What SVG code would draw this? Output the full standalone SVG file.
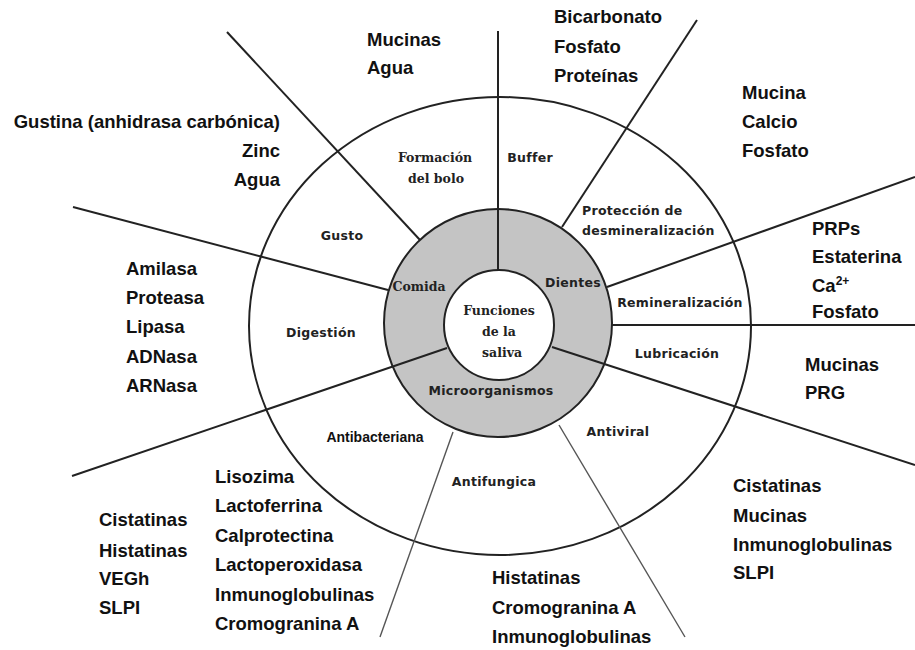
<svg xmlns="http://www.w3.org/2000/svg" width="915" height="650" viewBox="0 0 915 650">
<style>
.o{font-family:"Liberation Sans",Arial,sans-serif;font-weight:bold;font-size:18.5px;fill:#111}
.s{font-family:"DejaVu Sans",Verdana,sans-serif;font-weight:bold;font-size:12.5px;fill:#222;letter-spacing:0.3px}
.r{font-family:"DejaVu Serif",Georgia,serif;font-weight:bold;font-size:12.5px;fill:#222}
.a{font-family:"Liberation Sans",Arial,sans-serif;font-weight:bold;font-size:14px;fill:#111}
.ln{stroke:#222;stroke-width:2;fill:none}
.lt{stroke:#555;stroke-width:1.4;fill:none}
</style>
<rect width="915" height="650" fill="#fff"/>
<g id="rings">
<ellipse cx="500" cy="326" rx="251" ry="229" fill="#fff" stroke="#222" stroke-width="2"/>
<circle cx="498" cy="323" r="114" fill="#c4c4c4" stroke="#222" stroke-width="2"/>
<circle cx="499" cy="325" r="55" fill="#fff" stroke="#222" stroke-width="2"/>
</g>
<g id="connectors">
<line class="ln" x1="498" y1="31" x2="498" y2="270"/>
<line class="ln" x1="227" y1="32" x2="420" y2="240"/>
<line class="ln" x1="697" y1="20" x2="562" y2="227"/>
<line class="ln" x1="607" y1="287" x2="915" y2="177"/>
<line class="ln" x1="612" y1="325" x2="915" y2="325"/>
<line class="ln" x1="552" y1="347" x2="915" y2="465"/>
<line class="lt" x1="559" y1="425" x2="685" y2="637"/>
<line class="lt" x1="453" y1="432" x2="380" y2="637"/>
<line class="ln" x1="447" y1="348" x2="72" y2="476"/>
<line class="ln" x1="73" y1="207" x2="388" y2="290"/>
</g>
<g id="center">
<text class="r" text-anchor="middle"><tspan x="499" y="315">Funciones</tspan><tspan x="499" y="336">de la</tspan><tspan x="502" y="357">saliva</tspan></text>
</g>
<g id="comida"><text class="r" x="419" y="291" text-anchor="middle">Comida</text></g>
<g id="dientes"><text class="s" x="573" y="287" text-anchor="middle">Dientes</text></g>
<g id="microorganismos"><text class="s" x="491" y="395" text-anchor="middle">Microorganismos</text></g>
<g id="formacion"><text class="r" text-anchor="middle"><tspan x="435" y="162">Formación</tspan><tspan x="436" y="183">del bolo</tspan></text></g>
<g id="buffer"><text class="s" x="530" y="162" text-anchor="middle">Buffer</text></g>
<g id="gusto"><text class="s" x="342" y="240" text-anchor="middle">Gusto</text></g>
<g id="proteccion"><text class="s"><tspan x="582" y="215">Protección de</tspan><tspan x="582" y="235">desmineralización</tspan></text></g>
<g id="remineralizacion"><text class="s" x="680" y="307" text-anchor="middle">Remineralización</text></g>
<g id="lubricacion"><text class="s" x="677" y="358" text-anchor="middle">Lubricación</text></g>
<g id="antiviral"><text class="s" x="618" y="436" text-anchor="middle">Antiviral</text></g>
<g id="antifungica"><text class="s" x="494" y="486" text-anchor="middle">Antifungica</text></g>
<g id="antibacteriana"><text class="a" x="375" y="442" text-anchor="middle">Antibacteriana</text></g>
<g id="digestion"><text class="s" x="321" y="337" text-anchor="middle">Digestión</text></g>
<g id="lists">
<text class="o" text-anchor="end"><tspan x="280" y="128">Gustina (anhidrasa carbónica)</tspan><tspan x="280" y="157">Zinc</tspan><tspan x="280" y="186">Agua</tspan></text>
<text class="o"><tspan x="367" y="46">Mucinas</tspan><tspan x="367" y="74">Agua</tspan></text>
<text class="o"><tspan x="554" y="23">Bicarbonato</tspan><tspan x="554" y="53">Fosfato</tspan><tspan x="554" y="82">Proteínas</tspan></text>
<text class="o"><tspan x="742" y="99">Mucina</tspan><tspan x="742" y="128">Calcio</tspan><tspan x="742" y="157">Fosfato</tspan></text>
<text class="o"><tspan x="812" y="235">PRPs</tspan><tspan x="812" y="263">Estaterina</tspan><tspan x="812" y="292">Ca</tspan><tspan font-size="12" dy="-7">2+</tspan><tspan x="812" y="318">Fosfato</tspan></text>
<text class="o"><tspan x="805" y="371">Mucinas</tspan><tspan x="805" y="399">PRG</tspan></text>
<text class="o"><tspan x="733" y="492">Cistatinas</tspan><tspan x="733" y="522">Mucinas</tspan><tspan x="733" y="551">Inmunoglobulinas</tspan><tspan x="733" y="579">SLPI</tspan></text>
<text class="o"><tspan x="492" y="584">Histatinas</tspan><tspan x="492" y="614">Cromogranina A</tspan><tspan x="492" y="643">Inmunoglobulinas</tspan></text>
<text class="o"><tspan x="99" y="526">Cistatinas</tspan><tspan x="99" y="557">Histatinas</tspan><tspan x="99" y="585">VEGh</tspan><tspan x="99" y="614">SLPI</tspan></text>
<text class="o"><tspan x="215" y="483">Lisozima</tspan><tspan x="215" y="512">Lactoferrina</tspan><tspan x="215" y="542">Calprotectina</tspan><tspan x="215" y="571">Lactoperoxidasa</tspan><tspan x="215" y="601">Inmunoglobulinas</tspan><tspan x="215" y="630">Cromogranina A</tspan></text>
<text class="o"><tspan x="126" y="275">Amilasa</tspan><tspan x="126" y="304">Proteasa</tspan><tspan x="126" y="333">Lipasa</tspan><tspan x="126" y="363">ADNasa</tspan><tspan x="126" y="392">ARNasa</tspan></text>
</g>
</svg>
